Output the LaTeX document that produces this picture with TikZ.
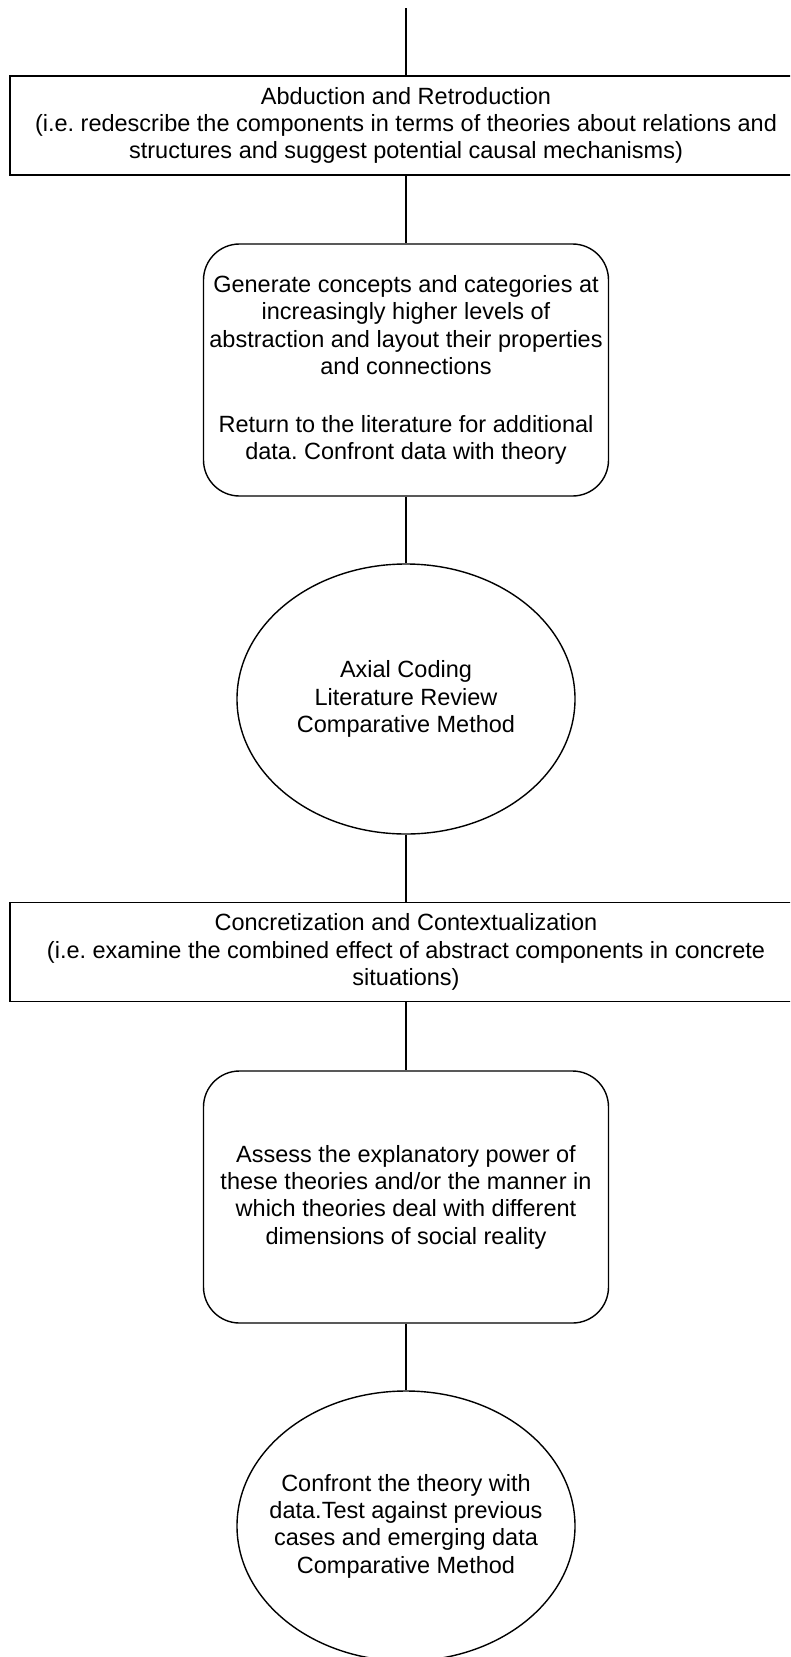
\documentclass[tikz,border=0pt]{standalone}
\usepackage{fontspec}
\setmainfont{Liberation Sans}
\frenchspacing
\usetikzlibrary{shapes.geometric}
\begin{document}
\begin{tikzpicture}[x=1pt,y=-1pt,
  every node/.style={font=\fontsize{23.5}{27.3}\selectfont, align=center, inner sep=0pt, line width=1.4pt},
  widebox/.style={draw, rectangle, minimum width=792pt, minimum height=99pt},
  roundbox/.style={draw, rectangle, rounded corners=36pt, minimum width=405pt, minimum height=252pt},
  ovalbox/.style={draw, ellipse, minimum width=338pt, minimum height=270pt},
  conn/.style={line width=1.4pt}]
\useasboundingbox (0,0) rectangle (790,1657);
\fill[white] (0,0) rectangle (790,1657);
\begin{scope}
\clip (0,0) rectangle (790,1657);
\coordinate (top) at (406,8);
\node[widebox] (r1) at (406,125.6) {Abduction and Retroduction\\(i.e. redescribe the components in terms of theories about relations and\\structures and suggest potential causal mechanisms)};
\node[roundbox] (rr1) at (406,370) {Generate concepts and categories at\\increasingly higher levels of\\abstraction and layout their properties\\and connections\\[30.5pt]Return to the literature for additional\\data. Confront data with theory};
\node[ovalbox] (e1) at (406,699) {};
\node (t1) at (e1.center) {Axial Coding\\Literature Review\\Comparative Method};
\node[widebox] (r2) at (406,952) {Concretization and Contextualization\\(i.e. examine the combined effect of abstract components in concrete\\situations)};
\node[roundbox] (rr2) at (406,1197) {Assess the explanatory power of\\these theories and/or the manner in\\which theories deal with different\\dimensions of social reality};
\node[ovalbox] (e2) at (406,1526) {};
\node (t2) at (e2.center) {Confront the theory with\\data.Test against previous\\cases and emerging data\\Comparative Method};
\draw[conn] (top) -- (r1.north);
\draw[conn] (r1.south) -- (rr1.north);
\draw[conn] (rr1.south) -- (e1.north);
\draw[conn] (e1.south) -- (r2.north);
\draw[conn] (r2.south) -- (rr2.north);
\draw[conn] (rr2.south) -- (e2.north);
\end{scope}
\end{tikzpicture}
\end{document}
